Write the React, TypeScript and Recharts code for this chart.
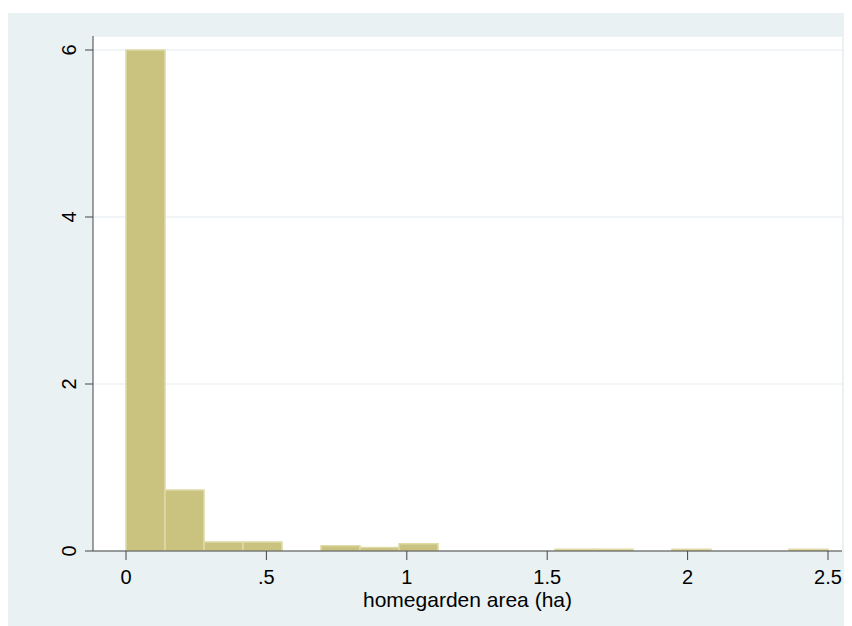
import React from 'react';
import { ComposedChart, Bar, XAxis, YAxis, CartesianGrid } from 'recharts';

// Histogram bins (start of each bin, width = 2.5/18 ha)
const binStarts = ['0.000', '0.139', '0.278', '0.417', '0.556', '0.694', '0.833', '0.972', '1.111', '1.250', '1.389', '1.528', '1.667', '1.806', '1.944', '2.083', '2.222', '2.361'];
const density = [6.0, 0.73, 0.107, 0.107, 0, 0.064, 0.043, 0.086, 0, 0, 0, 0.021, 0.021, 0, 0.021, 0, 0, 0.021];

const xTicks = [0, 0.5, 1, 1.5, 2, 2.5];
const xTickLabels = ['0', '.5', '1', '1.5', '2', '2.5'];
const yTicks = [0, 2, 4, 6];
const xTitle = 'homegarden area (ha)';

const data = binStarts.map((b, i) => ({ bin: b, start: Number(b), density: density[i] }));

const FONT = '"Liberation Sans", Arial, Helvetica, sans-serif';
const BG = '#e9f1f3';
const BAR = '#cac27f';
const BAR_EDGE = '#dedaa6';
const AXIS = '#444';

const YTick = (props: any) => {
  const { x, y, payload } = props;
  return (
    <text
      transform={`translate(${x},${y}) rotate(-90)`}
      textAnchor="middle"
      fontSize={20}
      fontFamily={FONT}
      fill="#000"
    >
      {String(payload.value)}
    </text>
  );
};

export default function App() {
  const pxPerUnit = 702 / 2.5;
  return (
    <div style={{ paddingTop: 5 }}>
      <ComposedChart
        width={844}
        height={613}
        data={data}
        margin={{ top: 23, right: 10, bottom: 15, left: 25 }}
        barCategoryGap={0}
        barGap={0}
        style={{ background: BG }}
      >
        <CartesianGrid
          xAxisId="val"
          vertical={false}
          fill="#ffffff"
          stroke="#e3ecf0"
          strokeWidth={1.2}
        />
        <XAxis
          xAxisId="bins"
          dataKey="bin"
          type="category"
          orientation="top"
          height={0}
          hide
          padding={{ left: 33, right: 14 }}
        />
        <XAxis
          xAxisId="val"
          dataKey="start"
          type="number"
          domain={[-33 / pxPerUnit, 2.5 + 14 / pxPerUnit]}
          allowDataOverflow
          ticks={xTicks}
          tickFormatter={(v: number) => xTickLabels[xTicks.indexOf(v)] ?? String(v)}
          height={60}
          tickSize={9}
          tickMargin={10}
          stroke={AXIS}
          tick={{ fill: '#000', fontSize: 20, fontFamily: FONT }}
          label={{ value: xTitle, position: 'insideBottom', offset: 4, fill: '#000', fontSize: 21, fontFamily: FONT }}
        />
        <YAxis
          domain={[0, 6 + 14 / 83.5]}
          allowDataOverflow
          ticks={yTicks}
          width={60}
          tickSize={8}
          tickMargin={9}
          stroke={AXIS}
          tick={<YTick />}
        />
        <Bar
          xAxisId="bins"
          dataKey="density"
          fill={BAR}
          stroke={BAR_EDGE}
          strokeWidth={1.5}
          isAnimationActive={false}
        />
      </ComposedChart>
    </div>
  );
}
